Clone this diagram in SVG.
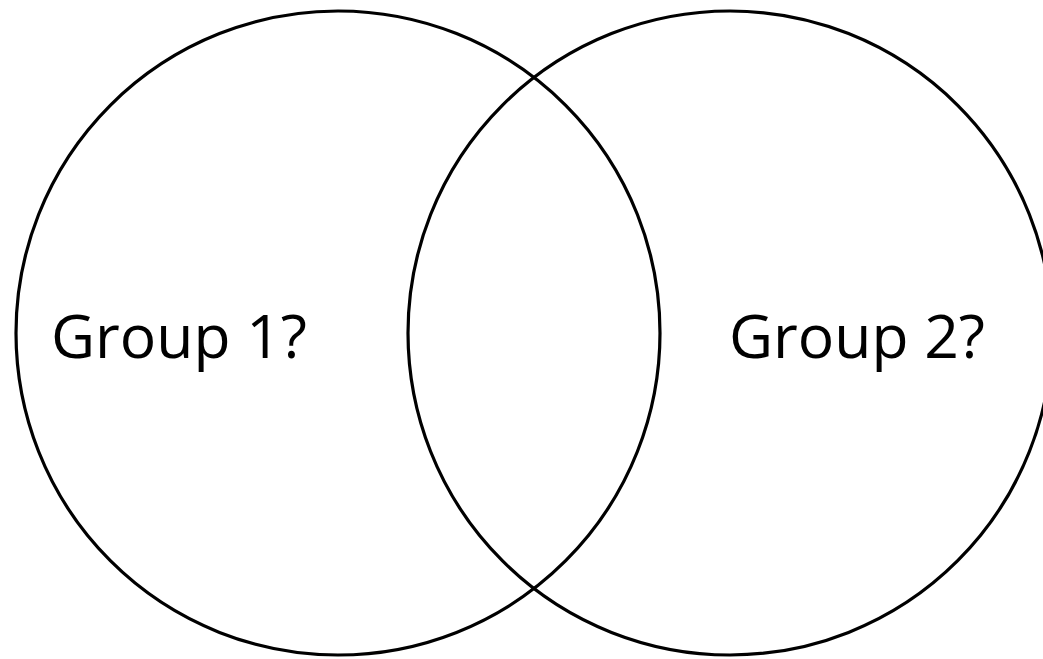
<svg xmlns="http://www.w3.org/2000/svg" width="1043" height="659" viewBox="0 0 1043 659">
<style>
.c{fill:none;stroke:#000;stroke-width:3.2}
.t{font-family:"Open Sans","Liberation Sans",sans-serif;font-size:61px;fill:#000}
</style>
<rect width="1043" height="659" fill="#fff"/>
<g id="group1">
<circle class="c" cx="338" cy="333" r="322"/>
<text class="t" x="51" y="358" textLength="256" lengthAdjust="spacingAndGlyphs">Group 1?</text>
</g>
<g id="group2">
<circle class="c" cx="730" cy="333" r="322"/>
<text class="t" x="729" y="358" textLength="256" lengthAdjust="spacingAndGlyphs">Group 2?</text>
</g>
<g id="connectors"></g>
</svg>
